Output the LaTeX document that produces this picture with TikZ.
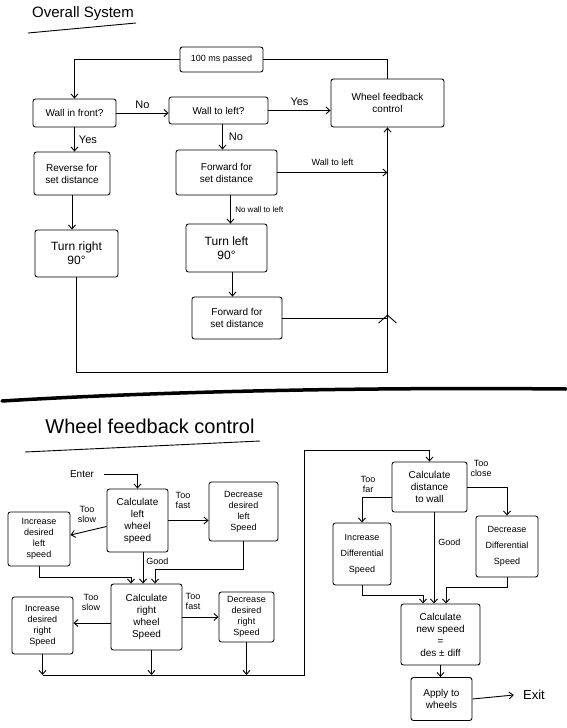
\documentclass[tikz,border=0pt]{standalone}
\usepackage{fontspec}
\setmainfont{Liberation Sans}
\usetikzlibrary{arrows.meta,decorations.markings}
\begin{document}
\begin{tikzpicture}[x=1pt,y=-1pt, line width=0.9pt, >={Straight Barb[length=4pt,width=7pt]},
  box/.style={draw, rounded corners=2.5pt, align=center, inner sep=1pt, font=\fontsize{10}{12}\selectfont},
  sbox/.style={box, font=\fontsize{9}{11}\selectfont},
  lbl/.style={font=\fontsize{10}{11}\selectfont, align=center, inner sep=1pt},
  slbl/.style={font=\fontsize{9}{10}\selectfont, align=center, inner sep=1pt}]
\useasboundingbox (0,0) rectangle (566,728);

% ---------- titles and separator
\node[font=\fontsize{15}{18}\selectfont] (t1) at (83,14) {Overall System};
\draw (28,33) -- (136,23);
\draw[line width=3.5pt, line cap=round] (2,401) .. controls (150,392) and (350,387) .. (566,389);
\node[font=\fontsize{20}{24}\selectfont] (t2) at (150,426) {Wheel feedback control};
\draw (25,452) -- (260,441);

% ---------- overall system
\node[box, minimum width=83pt, minimum height=25pt, font=\fontsize{9}{11}\selectfont] (p100) at (221.5,59.5) {100 ms passed};
\node[box, minimum width=83pt, minimum height=28pt] (wf) at (74.5,113) {Wall in front?};
\node[box, minimum width=99pt, minimum height=27pt] (wl) at (218.5,110.5) {Wall to left?};
\node[box, minimum width=113pt, minimum height=48pt] (wfc) at (387.5,103) {Wheel feedback\\control};
\node[box, minimum width=76pt, minimum height=43pt] (rev) at (72,173.5) {Reverse for\\set distance};
\node[box, minimum width=101pt, minimum height=45pt] (fwd1) at (226.5,172.5) {Forward for\\set distance};
\node[box, minimum width=83pt, minimum height=47pt, font=\fontsize{12}{14}\selectfont] (tr) at (76.5,253.5) {Turn right\\90°};
\node[box, minimum width=81pt, minimum height=48pt, font=\fontsize{12}{14}\selectfont] (tl) at (226.5,248) {Turn left\\90°};
\node[box, minimum width=90pt, minimum height=42pt] (fwd2) at (237,318) {Forward for\\set distance};

\draw[->] (p100.west) -| (wf.north);
\draw (p100.east) -| (wfc.north);
\draw[->] (wf.east) -- (wf.east -| wl.west) node[lbl, midway, above=3pt, font=\fontsize{11}{12}\selectfont] {No};
\draw[->] (wl.east) -- (wl.east -| wfc.west) node[lbl, midway, above=3pt, font=\fontsize{11}{12}\selectfont] {Yes};
\draw[->] (wf.south) -- (wf.south |- rev.north) node[lbl, midway, right=3pt, font=\fontsize{11}{12}\selectfont] {Yes};
\draw[->] ([xshift=4pt]wl.south) -- ([xshift=4pt]wl.south |- fwd1.north) node[lbl, midway, right=5pt, font=\fontsize{11}{12}\selectfont] {No};
\draw[->] (fwd1.east) -- (fwd1.east -| wfc.south) node[slbl, midway, above=5pt] {Wall to left};
\draw[->] (rev.south) -- (rev.south |- tr.north);
\draw[->] ([xshift=4pt]fwd1.south) -- ([xshift=4pt]fwd1.south |- tl.north) node[midway, right=1pt, font=\fontsize{8}{9}\selectfont] {No wall to left};
\draw[->] ([xshift=6pt]tl.south) -- ([xshift=6pt]tl.south |- fwd2.north);
\draw (fwd2.east) -- (fwd2.east -| wfc.south);
\coordinate (lc) at (76.5,372);
\coordinate (rc) at (wfc.south |- lc);
\draw (tr.south) |- (rc);
\draw[->, postaction={decorate}, decoration={markings, mark=at position 0.235 with {\arrow{Straight Barb[length=8pt,width=18pt]}}}] (rc) -- (wfc.south);

% ---------- wheel feedback control, left part
\node[lbl] (enter) at (82,474) {Enter};
\node[box, minimum width=61pt, minimum height=63pt] (cl) at (137.5,520.5) {Calculate\\left\\wheel\\speed};
\node[sbox, minimum width=69pt, minimum height=59pt] (dl) at (243.5,511.5) {Decrease\\desired\\left\\Speed};
\node[sbox, minimum width=62pt, minimum height=54pt] (il) at (39,539) {Increase\\desired\\left\\speed};
\node[box, minimum width=71pt, minimum height=66pt] (cr) at (146.5,617) {Calculate\\right\\wheel\\Speed};
\node[sbox, minimum width=61pt, minimum height=57pt] (ir) at (42.5,625.5) {Increase\\desired\\right\\Speed};
\node[sbox, minimum width=55pt, minimum height=50pt] (dr) at (246.5,617) {Decrease\\desired\\right\\Speed};

\node[slbl] (l1) at (183,500) {Too\\fast};
\node[slbl] (l2) at (87,514) {Too\\slow};
\node[slbl] (l3) at (193,601) {Too\\fast};
\node[slbl] (l4) at (91,602) {Too\\slow};

\draw[->] ([xshift=9pt]enter.east) -| (cl.north);
\draw[->] (cl.east) -- (cl.east -| dl.west);
\draw[->] ([yshift=-6pt]cl.west) -- ([yshift=4pt]il.east);
\coordinate (g) at (143,0);
\draw[->] (cl.south -| g) -- (g |- cr.north) node[slbl, pos=0.27, right=2pt] {Good};
\coordinate (j1) at (131,577);
\draw[->] (il.south) |- (j1) -- (j1 |- cr.north);
\coordinate (j2) at (155,569);
\draw[->] (dl.south) |- (j2) -- (j2 |- cr.north);
\draw[->] (cr.east) -- (cr.east -| dr.west);
\draw[->] ([yshift=-6pt]cr.west) -- ([yshift=-6pt]cr.west -| ir.east);
\coordinate (bl2) at (0,675);
\draw[->] (ir.south) -- (ir.south |- bl2);
\draw[->] ([xshift=5pt]cr.south) -- ([xshift=5pt]cr.south |- bl2);
\draw[->] (dr.south) -- (dr.south |- bl2);
\coordinate (br2) at (304,675);
\coordinate (tr2) at (304,450);

% ---------- wheel feedback control, right part
\node[box, minimum width=75pt, minimum height=50pt] (cd) at (429.5,487) {Calculate\\distance\\to wall};
\node[box, minimum width=62pt, minimum height=61pt, font=\fontsize{9}{16}\selectfont] (dd) at (507,546.5) {Decrease\\Differential\\Speed};
\node[box, minimum width=58pt, minimum height=62pt, font=\fontsize{9}{16}\selectfont] (id) at (362,554) {Increase\\Differential\\Speed};
\node[box, minimum width=79pt, minimum height=61pt] (ns) at (440.5,634.5) {Calculate\\new speed\\=\\des ± diff};
\node[box, minimum width=61pt, minimum height=43pt] (ap) at (441.5,699) {Apply to\\wheels};
\node[lbl, font=\fontsize{13}{15}\selectfont] (exit) at (534,695) {Exit};

\node[slbl] (l5) at (481,468) {Too\\close};
\node[slbl] (l6) at (368,484) {Too\\far};

\draw[->] (ir.south |- bl2) -- (br2) -- (tr2) -| (cd.north);
\draw[->] (cd.east) -| (dd.north);
\draw[->] ([yshift=-10pt]cd.west) -| (id.north);
\coordinate (k3) at (434,0);
\draw[->] (cd.south -| k3) -- (k3 |- ns.north) node[slbl, pos=0.33, right=3pt] {Good};
\coordinate (k1) at (423,595);
\draw[->] (id.south) |- (k1) -- (k1 |- ns.north);
\coordinate (k2) at (446,587);
\draw[->] (dd.south) |- (k2) -- (k2 |- ns.north);
\draw[->] (ns.south) -- (ns.south |- ap.north);
\draw[->] (ap.east) -- ([xshift=-8pt]exit.west);
\end{tikzpicture}
\end{document}
